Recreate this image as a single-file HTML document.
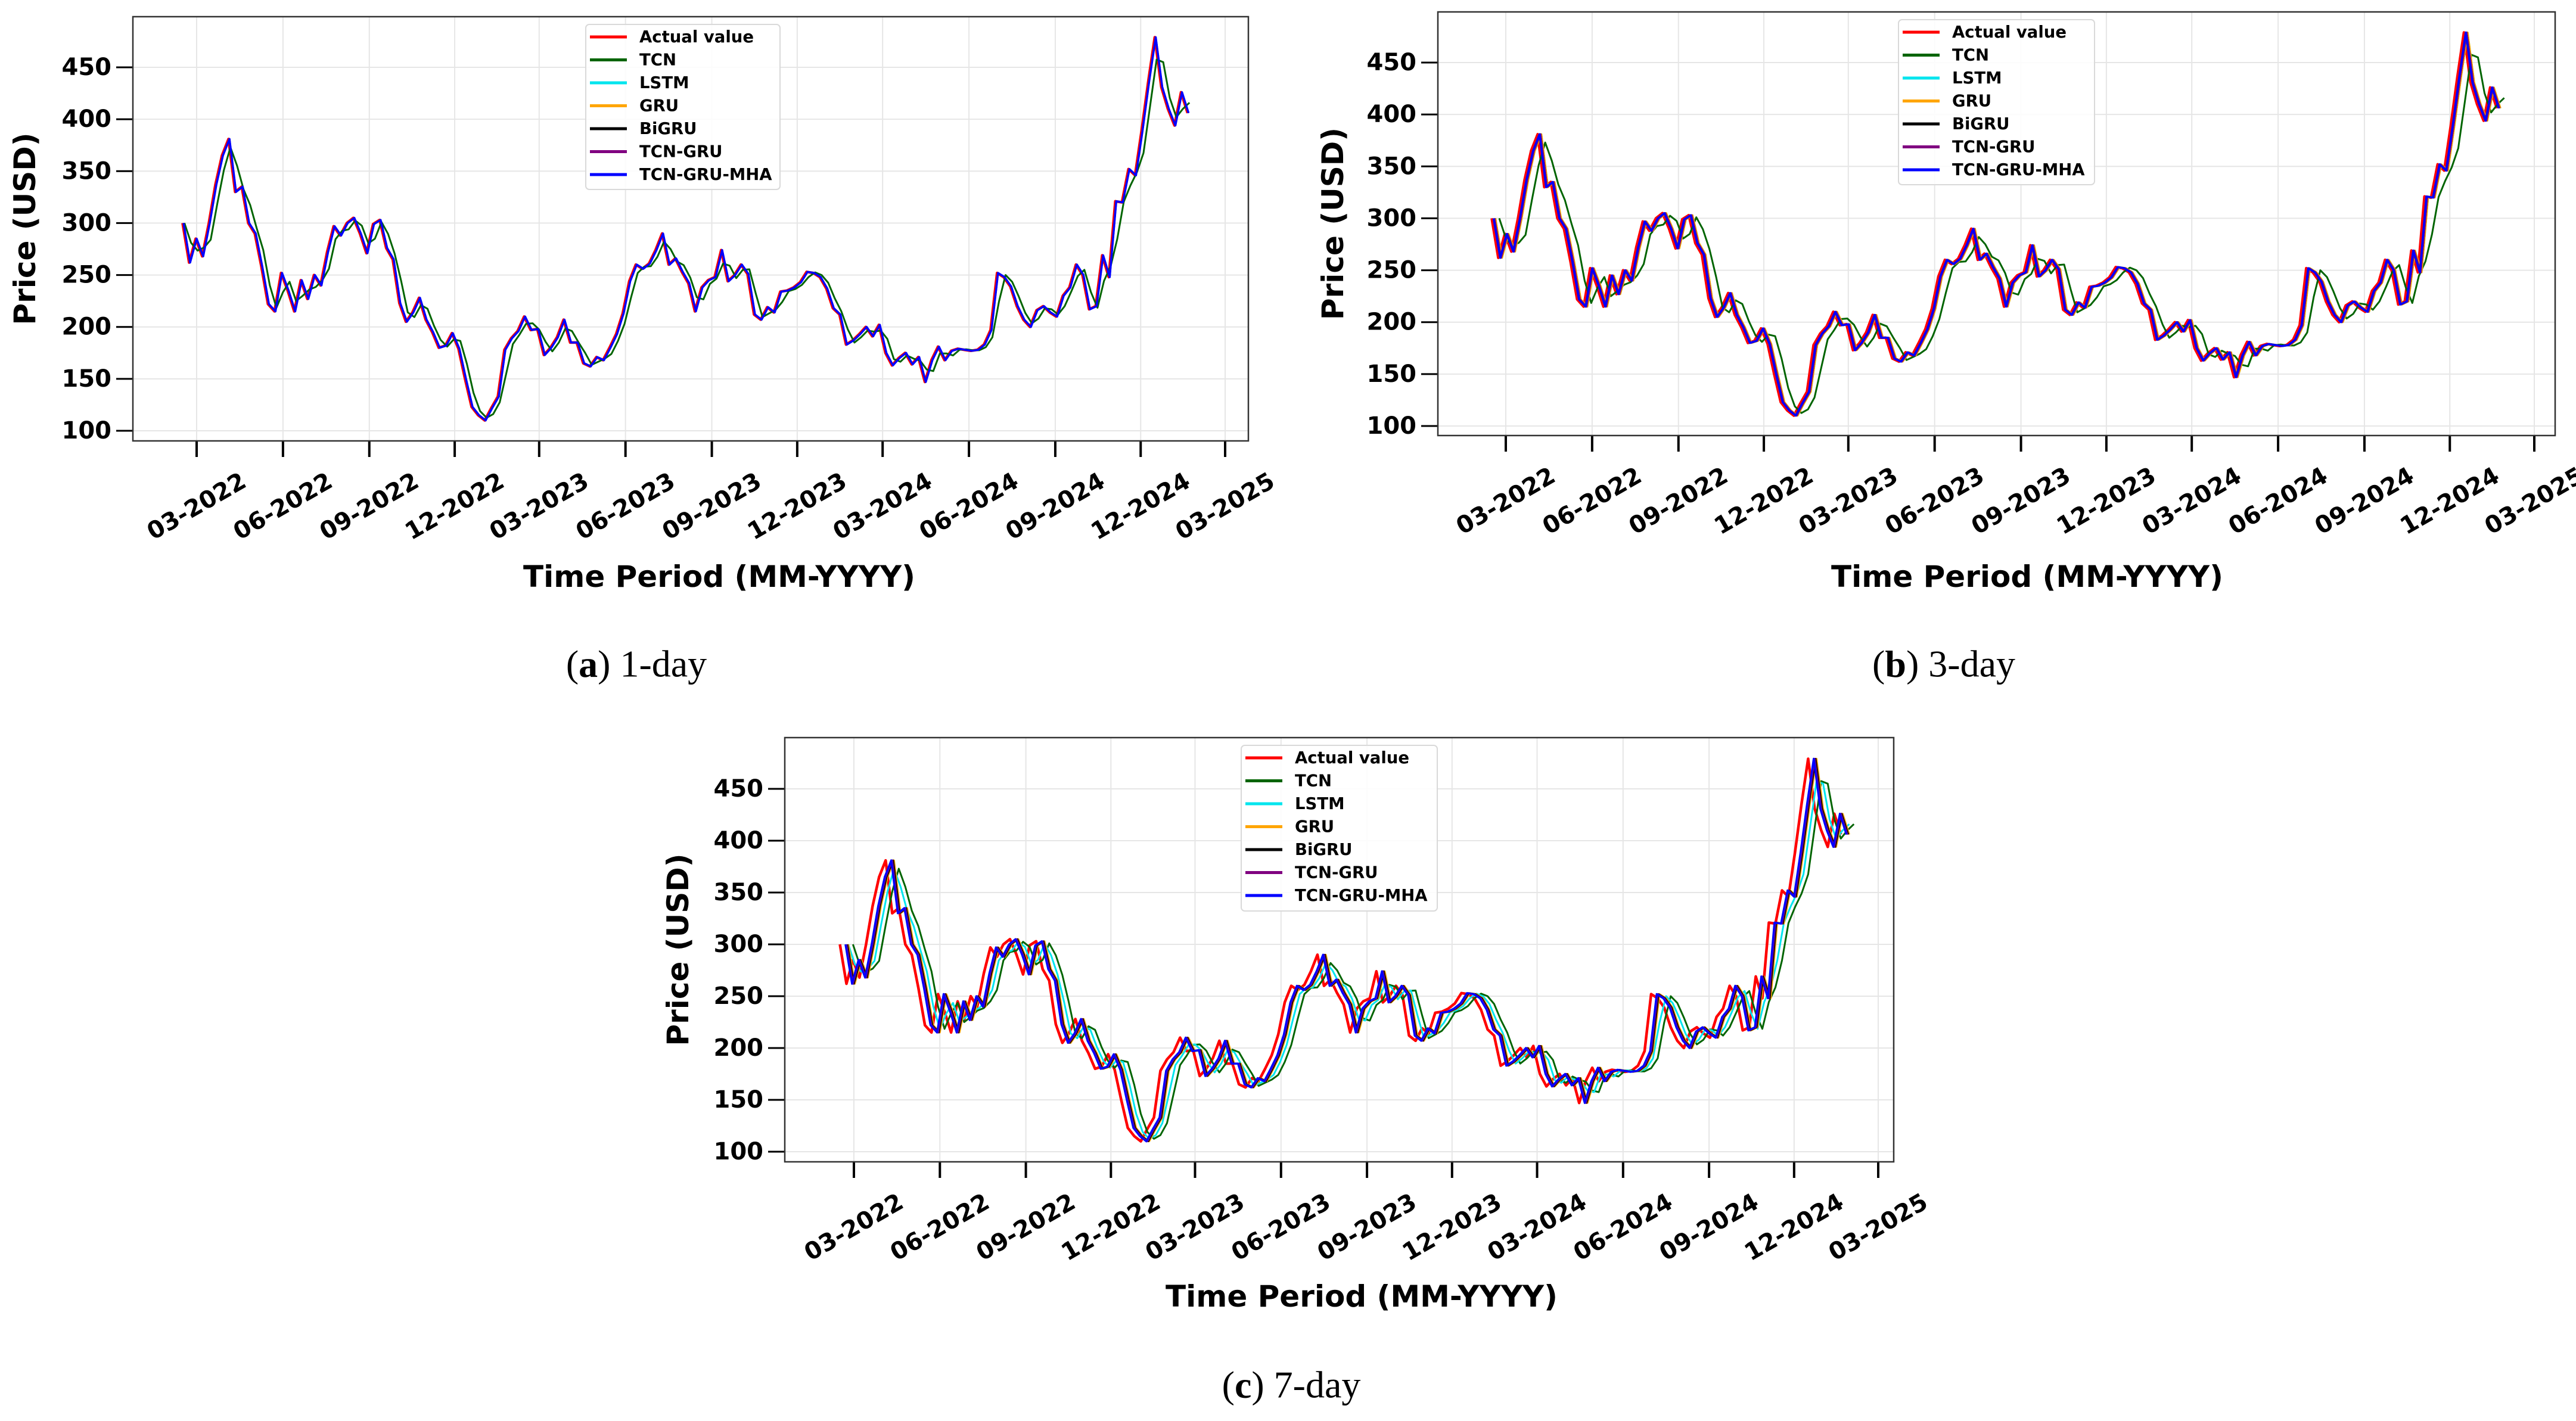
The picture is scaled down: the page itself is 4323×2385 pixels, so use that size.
<!DOCTYPE html>
<html><head><meta charset="utf-8"><style>
html,body{margin:0;padding:0;background:#fff;}
svg{display:block;}
text{font-family:"DejaVu Sans","Liberation Sans",sans-serif;font-weight:bold;fill:#000;}
.cap{font-family:"Liberation Serif",serif;font-weight:normal;}
</style></head><body>
<svg id="fig" width="4323" height="2385" viewBox="0 0 4323 2385" xmlns="http://www.w3.org/2000/svg"></svg>
<script>
// ---- data ----
const startDate = Date.UTC(2022,1,14);
const stepDays = 7;
const actualValues = [300,262,285,268,300,337,365,381,330,335,300,290,258,222,215,252,235,215,245,227,250,240,272,297,288,300,305,290,271,299,303,276,265,223,205,214,228,207,195,180,182,194,179,150,123,115,
110,122,133,178,189,196,210,197,198,173,180,190,207,185,185,165,162,171,168,180,193,213,244,260,256,261,274,290,260,266,253,242,215,238,245,248,274,244,250,260,251,212,207,219,214,234,235,238,243,253,252,248,
237,218,212,183,187,193,200,191,202,175,163,170,175,164,171,147,168,181,168,177,179,178,177,178,183,197,252,248,239,220,207,200,216,220,214,210,230,238,260,250,217,220,269,248,321,320,352,346,389,436,479,431,410,
394,426,406];
const modelNames = ["TCN","LSTM","GRU","BiGRU","TCN-GRU","TCN-GRU-MHA"];
const seriesNames = ["Actual value","TCN","LSTM","GRU","BiGRU","TCN-GRU","TCN-GRU-MHA"];
const seriesColors = ["#ff0000","#006400","#00e5ee","#ffa500","#000000","#800080","#0000ff"];
const yTicks = [100,150,200,250,300,350,400,450];
const xTickLabels = ["03-2022","06-2022","09-2022","12-2022","03-2023","06-2023","09-2023","12-2023","03-2024","06-2024","09-2024","12-2024","03-2025"];
// per-panel model lag (days) and smoothing window (points)
const lagsA = [2,1,1,1,1,1];
const smoothA = [2,1,1,1,1,1];
const lagsB = [8,4,4,3,3,2];
const smoothB = [2,1,1,1,1,1];
const lagsC = [14,9,9,8,7,6];
const smoothC = [2,2,1,1,1,1];

const panels = [
 {id:"a",L:223,R:2095,T:28,B:740,y450:113,y100:723,x0:330,x1:2056,leg:[983,41,326,277],ylx:42,xly:968,xlx:1207,cap:"1-day",capx:1068,capy:1114,lags:lagsA,sm:smoothA},
 {id:"b",L:2413,R:4288,T:20,B:731,y450:105,y100:715,x0:2527,x1:4253,leg:[3186,33,329,277],ylx:2237,xly:968,xlx:3402,cap:"3-day",capx:3262,capy:1114,lags:lagsB,sm:smoothB},
 {id:"c",L:1317,R:3178,T:1238,B:1950,y450:1324,y100:1933,x0:1433,x1:3152,leg:[2083,1251,329,278],ylx:1138,xly:2176,xlx:2285,cap:"7-day",capx:2167,capy:2324,lags:lagsC,sm:smoothC}
];
const NS="http://www.w3.org/2000/svg";
const fig=document.getElementById('fig');
function mk(tag,attrs,parent){const e=document.createElementNS(NS,tag);for(const k in attrs)e.setAttribute(k,attrs[k]);(parent||fig).appendChild(e);return e;}
const tA=Date.UTC(2022,2,1), tB=Date.UTC(2025,2,1);
panels.forEach(p=>{
  const g=mk('g',{});
  
  
  const xs=t=>p.x0+(t-tA)/(tB-tA)*(p.x1-p.x0);
  const ys=v=>p.y100+(v-100)/350*(p.y450-p.y100);
  yTicks.forEach(v=>{const l=mk('line',{x1:p.L,x2:p.R,y1:ys(v),y2:ys(v),stroke:'#e6e6e6','stroke-width':2},g);
    });
  xTickLabels.forEach((lab,i)=>{const t=Date.UTC(2022+Math.floor((2+3*i)/12),(2+3*i)%12,1);const x=xs(t);
    const l=mk('line',{x1:x,x2:x,y1:p.T,y2:p.B,stroke:'#e6e6e6','stroke-width':2},g);
    
    const tk=mk('line',{x1:x,x2:x,y1:p.B,y2:p.B+27,stroke:'#000','stroke-width':4},g);
    
    const tx=mk('text',{transform:`translate(${x},${p.B+110}) rotate(-30)`,'text-anchor':'middle','dominant-baseline':'central','font-size':40},g);
    tx.textContent=lab;
    
  });
  yTicks.forEach(v=>{const y=ys(v);
    const tk=mk('line',{x1:p.L-28,x2:p.L,y1:y,y2:y,stroke:'#000','stroke-width':3},g);
    
    const tx=mk('text',{x:p.L-36,y:y,'text-anchor':'end','dominant-baseline':'central','font-size':40},g);
    tx.textContent=v;
    
  });
  const cp=mk('clipPath',{id:'clip'+p.id},g);mk('rect',{x:p.L,y:p.T,width:p.R-p.L,height:p.B-p.T},cp);
  const sg=mk('g',{'clip-path':`url(#clip${p.id})`},g);
  let d=actualValues.map((v,i)=>(i?'L':'M')+xs(startDate+i*stepDays*864e5).toFixed(1)+','+ys(v).toFixed(1)).join('');
  const pa=mk('path',{d:d,fill:'none',stroke:seriesColors[0],'stroke-width':4.5,'stroke-linejoin':'round'},sg);
  
  modelNames.forEach((m,k)=>{
    const lag=p.lags[k], w=p.sm[k];
    const pts=actualValues.map((v,i)=>{let s=0,c=0;for(let j=Math.max(0,i-w+1);j<=i;j++){s+=actualValues[j];c++;}
      return [xs(startDate+(i*stepDays+lag)*864e5),ys(s/c)];});
    const dd=pts.map((q,i)=>(i?'L':'M')+q[0].toFixed(1)+','+q[1].toFixed(1)).join('');
    const pl=mk('path',{d:dd,fill:'none',stroke:seriesColors[k+1],'stroke-width':k===5?3.5:3,'stroke-linejoin':'round'},sg);
    
  });
  const fr=mk('rect',{x:p.L,y:p.T,width:p.R-p.L,height:p.B-p.T,fill:'none',stroke:'#333','stroke-width':2.5},g);
  
  const [lx,ly,lw,lh]=p.leg;
  const lg=mk('g',{},g);
  
  mk('rect',{x:lx,y:ly,width:lw,height:lh,rx:6,fill:'#fff','fill-opacity':0.85,stroke:'#d9d9d9','stroke-width':2},lg);
  seriesNames.forEach((n,i)=>{const y=ly+21+i*38.5;
    const ln=mk('line',{x1:lx+7,x2:lx+69,y1:y,y2:y,stroke:seriesColors[i],'stroke-width':5},lg);
    
    const t=mk('text',{x:lx+90,y:y,'dominant-baseline':'central','font-size':27.5},lg);t.textContent=n;
    
  });
  const yl=mk('text',{transform:`translate(${p.ylx},${(p.T+p.B)/2}) rotate(-90)`,'text-anchor':'middle','dominant-baseline':'central','font-size':50},g);
  yl.textContent='Price (USD)';
  const xl=mk('text',{x:p.xlx,y:p.xly,'text-anchor':'middle','dominant-baseline':'central','font-size':50},g);
  xl.textContent='Time Period (MM-YYYY)';
  const cp2=mk('text',{x:p.capx,y:p.capy,'text-anchor':'middle','dominant-baseline':'central','font-size':64,class:'cap'},g);
  cp2.innerHTML=`(<tspan font-weight="bold" style="font-weight:bold">${p.id}</tspan>) ${p.cap}`;
  
});
</script>
</body></html>
